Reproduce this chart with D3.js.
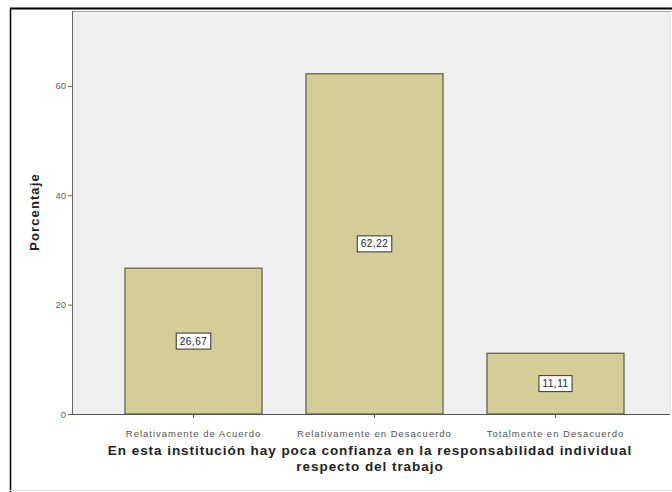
<!DOCTYPE html>
<html><head><meta charset="utf-8">
<script src="https://cdn.jsdelivr.net/npm/d3@7"></script>
<style>body{margin:0;background:#fff}svg{display:block}</style>
</head><body>
<svg id="c" width="672" height="492"></svg>
<script>
const categories = ["Relativamente de Acuerdo", "Relativamente en Desacuerdo", "Totalmente en Desacuerdo"];
const values = [26.67, 62.22, 11.11];
const valueLabels = ["26,67", "62,22", "11,11"];
const yTicks = [0, 20, 40, 60];
const yTitle = "Porcentaje";
const xTitleLines = ["En esta institución hay poca confianza en la responsabilidad individual", "respecto del trabajo"];

const FONT = "Arial, Liberation Sans, sans-serif";
const svg = d3.select("#c");
const plot = {left: 73, top: 11, right: 670, bottom: 414};

// outer frame
svg.append("line").attr("x1", 10).attr("x2", 672).attr("y1", 8.5).attr("y2", 8.5).attr("stroke", "#000").attr("stroke-width", 2);
svg.append("line").attr("x1", 10.5).attr("x2", 10.5).attr("y1", 8).attr("y2", 492).attr("stroke", "#000").attr("stroke-width", 1.5);
svg.append("line").attr("x1", 10).attr("x2", 672).attr("y1", 490.5).attr("y2", 490.5).attr("stroke", "#ddd");

// plot background
svg.append("rect").attr("x", plot.left).attr("y", plot.top)
  .attr("width", plot.right - plot.left).attr("height", plot.bottom - plot.top)
  .attr("fill", "#efefef");
svg.append("line").attr("x1", plot.left).attr("x2", 672).attr("y1", plot.top + 0.5).attr("y2", plot.top + 0.5).attr("stroke", "#aaa");
svg.append("line").attr("x1", plot.right + 0.5).attr("x2", plot.right + 0.5).attr("y1", plot.top).attr("y2", plot.bottom).attr("stroke", "#e4e4e4");

const y = d3.scaleLinear().domain([0, 73.7]).range([plot.bottom, plot.top]);
const x = d3.scaleBand().domain(categories).range([103, 646]).paddingInner(0.243).paddingOuter(0.1215);

// bars
const g = svg.append("g");
g.selectAll("rect.bar").data(values).join("rect")
  .attr("class", "bar")
  .attr("x", (d, i) => x(categories[i]))
  .attr("y", d => y(d))
  .attr("width", x.bandwidth())
  .attr("height", d => y(0) - y(d))
  .attr("fill", "#d3ce97")
  .attr("stroke", "#5b5b45")
  .attr("stroke-width", 1.2);

// value labels
values.forEach((v, i) => {
  const cx = x(categories[i]) + x.bandwidth() / 2;
  const cy = y(v / 2);
  const t = g.append("text").attr("x", cx).attr("y", cy + 3.5)
    .attr("text-anchor", "middle").attr("font-family", FONT)
    .attr("font-size", 10).attr("letter-spacing", 0.5).attr("fill", "#222").text(valueLabels[i]);
  const bb = t.node().getBBox();
  g.insert("rect", "text").attr("x", bb.x - 3.5).attr("y", bb.y - 2.5)
    .attr("width", bb.width + 7).attr("height", bb.height + 5)
    .attr("fill", "#fff").attr("stroke", "#333").attr("stroke-width", 1);
});

// y axis
const yAxis = svg.append("g").attr("transform", `translate(${plot.left},0)`)
  .call(d3.axisLeft(y).tickValues(yTicks).tickSize(5).tickPadding(2));
yAxis.select(".domain").attr("stroke", "#666").attr("d", `M-0.5,${plot.bottom}V${plot.top}`);
yAxis.selectAll(".tick line").attr("stroke", "#666");
yAxis.selectAll("text").attr("font-family", FONT).attr("font-size", 9.5).attr("fill", "#666");

// x axis
const xAxis = svg.append("g").attr("transform", `translate(0,${plot.bottom})`)
  .call(d3.axisBottom(x).tickSize(4).tickPadding(12));
xAxis.select(".domain").attr("stroke", "#555").attr("d", `M${plot.left},0.5H${plot.right}`);
xAxis.selectAll(".tick line").attr("stroke", "#555");
xAxis.selectAll("text").attr("font-family", FONT).attr("font-size", 9.5).attr("letter-spacing", 1.0).attr("fill", "#555");

// axis titles
svg.append("text").attr("transform", "translate(39,212) rotate(-90)")
  .attr("text-anchor", "middle").attr("font-family", FONT)
  .attr("font-size", 13).attr("letter-spacing", 1.1).attr("font-weight", "bold").attr("fill", "#222").text(yTitle);

xTitleLines.forEach((s, i) => {
  svg.append("text").attr("x", 370).attr("y", 455 + i * 16)
    .attr("text-anchor", "middle").attr("font-family", FONT)
    .attr("font-size", 13.5).attr("letter-spacing", 0.95).attr("font-weight", "bold").attr("fill", "#222").text(s);
});
</script>
</body></html>
